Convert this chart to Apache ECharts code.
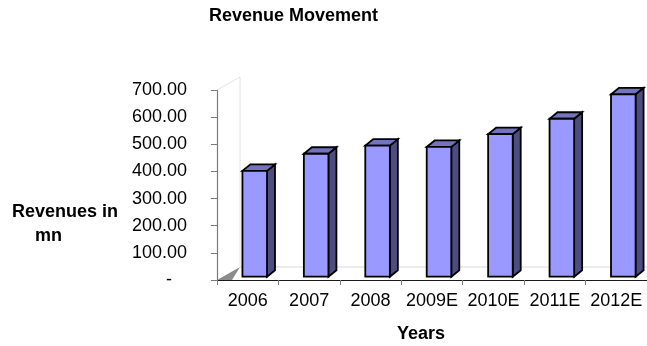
<!DOCTYPE html>
<html>
<head>
<meta charset="utf-8">
<title>Revenue Movement</title>
<script src="https://cdn.jsdelivr.net/npm/echarts@6/dist/echarts.min.js"></script>
<style>
  html, body { margin: 0; padding: 0; background: #fff; }
  #chart { width: 647px; height: 346px; }
</style>
</head>
<body>
<div id="chart"></div>
<script>
// Revenue by year (mn); E = estimate
const categories = ['2006', '2007', '2008', '2009E', '2010E', '2011E', '2012E'];
const revenues = [390, 453, 483, 478, 525, 582, 672];
const yMin = 0;
const yMax = 700;
const yStep = 100;

const FONT = "'Liberation Sans', Arial, Helvetica, sans-serif";

// pseudo-3D depth of the plot box (floor/back wall) and of each column
const WALL_DX = 23, WALL_DY = -13;
const BAR_DX = 8, BAR_DY = -6.5;      // column depth
const BAR_SHIFT_X = 7, BAR_SHIFT_Y = -3.3; // column front face sits a little behind the front axis
const BAR_RATIO = 0.4;

function renderWall(params, api) {
  const cs = params.coordSys;
  const x0 = cs.x, y0 = cs.y, w = cs.width, h = cs.height;
  const yb = y0 + h;
  return {
    type: 'group',
    children: [
      { type: 'line', shape: { x1: x0, y1: y0, x2: x0 + WALL_DX, y2: y0 + WALL_DY },
        style: { stroke: '#e4e4e4', lineWidth: 1 } },
      { type: 'line', shape: { x1: x0 + WALL_DX, y1: y0 + WALL_DY, x2: x0 + WALL_DX, y2: yb + WALL_DY },
        style: { stroke: '#e4e4e4', lineWidth: 1 } },
      { type: 'line', shape: { x1: x0 + WALL_DX, y1: yb + WALL_DY, x2: x0 + w, y2: yb + WALL_DY },
        style: { stroke: '#d9d9d9', lineWidth: 1 } },
      { type: 'polygon', shape: { points: [[x0, yb], [x0 + WALL_DX, yb + WALL_DY], [x0 + 15, yb]] },
        style: { fill: '#8c8c8c' } }
    ]
  };
}

function renderColumn(params, api) {
  const i = api.value(0);
  const v = api.value(1);
  const base = api.coord([i, 0]);
  const top = api.coord([i, v]);
  const w = api.size([1, 0])[0] * BAR_RATIO;
  const x0 = base[0] + BAR_SHIFT_X - w / 2;
  const x1 = x0 + w;
  const yb = base[1] + BAR_SHIFT_Y;
  const yt = top[1] + BAR_SHIFT_Y;
  const edge = { stroke: '#000', lineWidth: 1.8, lineJoin: 'miter' };
  return {
    type: 'group',
    children: [
      { type: 'polygon',
        shape: { points: [[x1, yb], [x1 + BAR_DX, yb + BAR_DY], [x1 + BAR_DX, yt + BAR_DY], [x1, yt]] },
        style: Object.assign({ fill: '#4d4d80' }, edge) },
      { type: 'polygon',
        shape: { points: [[x0, yt], [x1, yt], [x1 + BAR_DX, yt + BAR_DY], [x0 + BAR_DX, yt + BAR_DY]] },
        style: Object.assign({ fill: '#7373bf' }, edge) },
      { type: 'rect',
        shape: { x: x0, y: yt, width: w, height: yb - yt },
        style: Object.assign({ fill: '#9999ff' }, edge) }
    ]
  };
}

const chart = echarts.init(document.getElementById('chart'), null, { renderer: 'canvas' });

chart.setOption({
  animation: false,
  backgroundColor: '#ffffff',
  textStyle: { fontFamily: FONT },
  title: {
    text: 'Revenue Movement',
    left: 209,
    top: 7,
    padding: 0,
    textStyle: { fontFamily: FONT, fontSize: 18, fontWeight: 'bold', color: '#000' }
  },
  grid: { left: 217, right: 0, top: 90, bottom: 66, containLabel: false },
  xAxis: {
    type: 'category',
    data: categories,
    axisLine: { lineStyle: { color: '#1a1a1a', width: 1.2 } },
    axisTick: { show: true, length: 5, lineStyle: { color: '#808080' } },
    axisLabel: { fontFamily: FONT, fontSize: 18, color: '#000', margin: 12, interval: 0 },
    splitLine: { show: false }
  },
  yAxis: {
    type: 'value',
    min: yMin,
    max: yMax,
    interval: yStep,
    axisLine: { show: true, lineStyle: { color: '#7a7a7a', width: 1.2 } },
    axisTick: { show: true, length: 6, lineStyle: { color: '#7a7a7a' } },
    axisLabel: {
      fontFamily: FONT, fontSize: 18, color: '#000', margin: 30,
      padding: [4, 0, 0, 0],
      formatter: function (val) { return val === 0 ? '-   ' : val.toFixed(2); }
    },
    splitLine: { show: false }
  },
  graphic: [
    { type: 'text', left: 12, top: 203,
      style: { text: 'Revenues in', font: 'bold 18px ' + FONT, fill: '#000' } },
    { type: 'text', left: 35, top: 227,
      style: { text: 'mn', font: 'bold 18px ' + FONT, fill: '#000' } },
    { type: 'text', left: 397, top: 325,
      style: { text: 'Years', font: 'bold 18px ' + FONT, fill: '#000' } }
  ],
  series: [
    { type: 'custom', name: 'wall', renderItem: renderWall, data: [[0, 0]], z: 1, silent: true },
    { type: 'custom', name: 'Revenue', renderItem: renderColumn,
      data: revenues.map(function (v, i) { return [i, v]; }), z: 3,
      encode: { x: 0, y: 1 } }
  ]
});
</script>
</body>
</html>
